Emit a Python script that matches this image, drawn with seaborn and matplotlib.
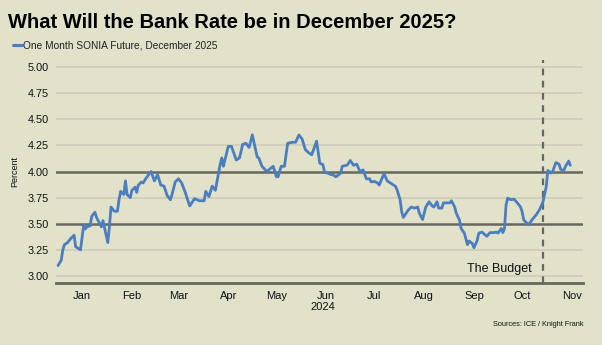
import matplotlib
matplotlib.use("Agg")
import matplotlib.pyplot as plt
import matplotlib.transforms as mtransforms
import pandas as pd
import seaborn as sns

# ---- data ----
# days since 1 Jan 2024
day_offset = [1, 3, 4, 5, 7, 9, 11, 12, 14, 15, 17, 18, 19, 21, 22, 24, 25, 26, 28, 29,
              32, 33, 34, 36, 38, 39, 40, 42, 43, 44, 46, 47, 49, 50, 51, 53, 54, 56, 59, 61,
              63, 65, 67, 69, 71, 72, 74, 76, 78, 80, 83, 86, 89, 92, 93, 95, 97, 99, 102, 103,
              104, 107, 109, 112, 114, 116, 118, 120, 122, 125, 126, 128, 131, 135, 137, 138, 140, 142, 144, 147,
              149, 151, 153, 155, 157, 159, 162, 164, 166, 167, 169, 171, 172, 174, 175, 177, 178, 181, 183, 185,
              187, 189, 191, 193, 195, 196, 198, 200, 201, 204, 206, 208, 211, 212, 214, 215, 216, 219, 221, 223,
              225, 226, 228, 230, 232, 234, 235, 237, 238, 240, 241, 245, 246, 248, 249, 251, 252, 254, 256, 257,
              259, 260, 262, 263, 265, 268, 270, 272, 274, 275, 277, 278, 279, 280, 281, 283, 285, 287, 289, 290,
              291, 292, 294, 296, 299, 301, 303, 305, 306, 308, 309, 311, 313, 314, 316, 317, 319, 320]
sonia_dec25 = [3.10, 3.15, 3.25, 3.30, 3.32, 3.36, 3.39, 3.28, 3.26, 3.25, 3.49, 3.45, 3.47, 3.48, 3.57, 3.61, 3.56, 3.53, 3.47, 3.53,
               3.32, 3.47, 3.66, 3.62, 3.62, 3.73, 3.81, 3.78, 3.91, 3.78, 3.75, 3.82, 3.85, 3.80, 3.87, 3.90, 3.89, 3.94, 4.00, 3.91,
               3.97, 3.87, 3.86, 3.77, 3.73, 3.78, 3.90, 3.93, 3.89, 3.81, 3.67, 3.74, 3.72, 3.72, 3.81, 3.76, 3.86, 3.82, 4.07, 4.13,
               4.05, 4.24, 4.24, 4.11, 4.13, 4.26, 4.27, 4.23, 4.35, 4.14, 4.13, 4.05, 4.00, 4.05, 3.95, 3.95, 4.05, 4.05, 4.27, 4.28,
               4.28, 4.35, 4.31, 4.21, 4.18, 4.16, 4.29, 4.08, 4.065, 3.99, 3.985, 3.97, 3.97, 3.95, 3.96, 3.985, 4.05, 4.06, 4.105, 4.06,
               4.07, 4.00, 4.015, 3.93, 3.93, 3.90, 3.905, 3.89, 3.87, 3.98, 3.91, 3.89, 3.86, 3.83, 3.73, 3.615, 3.56, 3.63, 3.66, 3.65,
               3.66, 3.60, 3.54, 3.66, 3.71, 3.67, 3.66, 3.71, 3.65, 3.65, 3.70, 3.70, 3.72, 3.66, 3.60, 3.535, 3.455, 3.41, 3.30, 3.335,
               3.31, 3.27, 3.34, 3.41, 3.42, 3.38, 3.415, 3.415, 3.42, 3.41, 3.455, 3.415, 3.455, 3.68, 3.745, 3.73, 3.735, 3.70, 3.66, 3.615,
               3.535, 3.52, 3.49, 3.535, 3.59, 3.64, 3.71, 3.855, 4.01, 3.985, 4.00, 4.085, 4.07, 4.02, 4.01, 4.05, 4.10, 4.06]
y_ticks = [3.00, 3.25, 3.50, 3.75, 4.00, 4.25, 4.50, 4.75, 5.00]
key_levels = [3.50, 4.00]
month_labels = ["Jan", "Feb", "Mar", "Apr", "May", "Jun", "Jul", "Aug", "Sep", "Oct", "Nov"]
budget_date = "2024-10-30"
series_name = "One Month SONIA Future, December 2025"
title = "What Will the Bank Rate be in December 2025?"

BG = "#E2E1CA"
LINE = "#4A7EBF"
DARK = "#67675E"
LIGHT = "#CFCEBB"

sns.set_theme(style="white")
plt.rcParams["font.family"] = ["Liberation Sans", "DejaVu Sans"]

df = pd.DataFrame({
    "date": pd.Timestamp("2024-01-01") + pd.to_timedelta(day_offset, unit="D"),
    "value": sonia_dec25,
})

fig = plt.figure(figsize=(6.02, 3.45), dpi=100, facecolor=BG)
ax = fig.add_axes([56 / 602, 1 - 283 / 345, (583 - 56) / 602, (283 - 60) / 345])
ax.set_facecolor(BG)

# gridlines
for t in y_ticks:
    if t in key_levels:
        ax.axhline(t, color=DARK, lw=1.8, zorder=1)
    else:
        ax.axhline(t, color=LIGHT, lw=1.3, zorder=1)

sns.lineplot(data=df, x="date", y="value", ax=ax, color=LINE, lw=2.0, zorder=3,
             label=series_name, legend=False)

ax.axvline(pd.Timestamp(budget_date), color=DARK, lw=1.6, ls=(0, (3, 2.5)), zorder=2)
ax.text(pd.Timestamp(budget_date) - pd.Timedelta(days=7), 3.04, "The Budget",
        ha="right", va="baseline", fontsize=9, color="#111111")

ax.set_ylim(2.933, 5.067)
ax.set_xlim(pd.Timestamp("2024-01-01") - pd.Timedelta(hours=6),
            pd.Timestamp("2024-01-01") + pd.Timedelta(days=327.9))
ax.set_yticks(y_ticks)
ax.set_yticklabels([f"{t:.2f}" for t in y_ticks], fontsize=7.8, color="#111111")
ax.tick_params(axis="y", length=0, pad=5)

mid = [pd.Timestamp(f"2024-{m:02d}-17") for m in range(1, 12)]
ax.set_xticks(mid)
ax.set_xticklabels(month_labels, fontsize=8, color="#111111")
ax.tick_params(axis="x", length=0, pad=6)
ax.set_xlabel("")
ax.set_ylabel("Percent", fontsize=6.5, color="#111111", labelpad=6)

for s in ["top", "right", "left"]:
    ax.spines[s].set_visible(False)
ax.spines["bottom"].set_color(DARK)
ax.spines["bottom"].set_linewidth(2.0)

trans = mtransforms.blended_transform_factory(ax.transData, fig.transFigure)
ax.text(pd.Timestamp("2024-06-15"), 1 - 307 / 345, "2024", transform=trans,
        ha="center", va="center", fontsize=8, color="#111111")

fig.text(8 / 602, 1 - 22 / 345, title, fontsize=14.5, fontweight="bold",
         color="black", ha="left", va="center")

# legend
fig.lines.append(plt.Line2D([13 / 602, 22 / 602], [1 - 45 / 345] * 2,
                            transform=fig.transFigure, color=LINE, lw=2.2))
fig.text(23 / 602, 1 - 45 / 345, series_name, fontsize=7.3, color="#222222",
         ha="left", va="center")

fig.text(584 / 602, 1 - 325 / 345, "Sources: ICE / Knight Frank", fontsize=5.3,
         color="#111111", ha="right", va="center")

fig.savefig("out.png", dpi=100, facecolor=BG)
